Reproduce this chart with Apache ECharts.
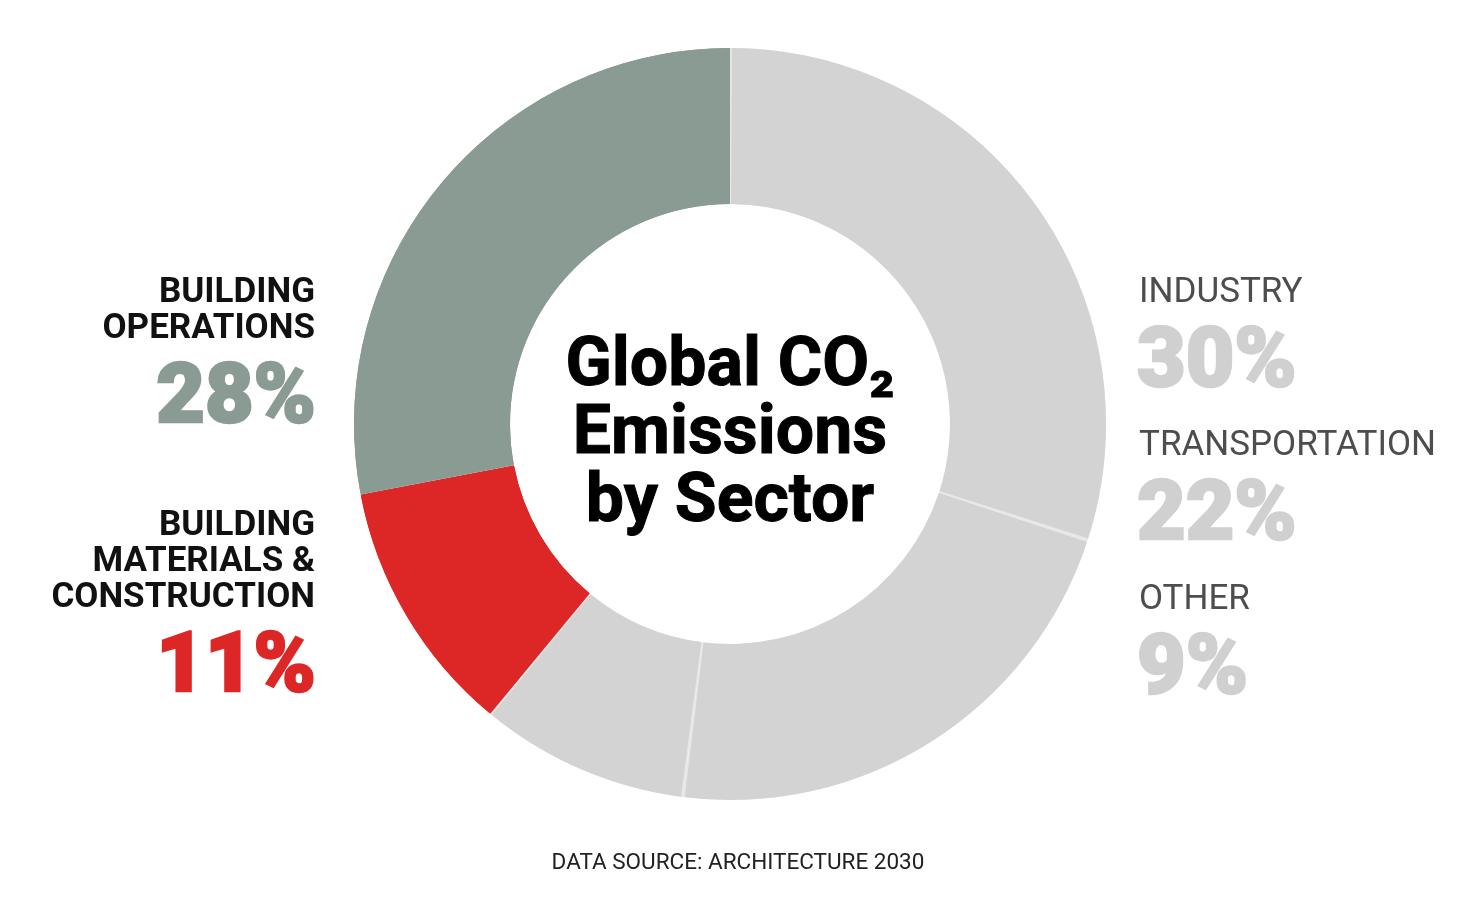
<!DOCTYPE html>
<html>
<head>
<meta charset="utf-8">
<title>Global CO2 Emissions by Sector</title>
<script src="https://cdn.jsdelivr.net/npm/echarts@6/dist/echarts.min.js"></script>
<style>
  html, body { margin: 0; padding: 0; background: #fff; }
  #chart { width: 1476px; height: 900px; }
</style>
</head>
<body>
<div id="chart"></div>
<script>
// data, clockwise from 12 o'clock
const sectors = ['Industry', 'Transportation', 'Other', 'Building Materials & Construction', 'Building Operations'];
const shares = [30, 22, 9, 11, 28];
const labelLines = [
  ['INDUSTRY'],
  ['TRANSPORTATION'],
  ['OTHER'],
  ['BUILDING', 'MATERIALS &', 'CONSTRUCTION'],
  ['BUILDING', 'OPERATIONS']
];
const titleLines = ['Global CO\u2082', 'Emissions', 'by Sector'];
const sourceText = 'DATA SOURCE: ARCHITECTURE 2030';

const sliceColors = ['#d3d3d3', '#d3d3d3', '#d3d3d3', '#dd2727', '#8a9b94'];
// colour seen through the thin gaps between slices
const gapColors = ['#e6e6e6', '#e6e6e6', '#e6e6e6', '#dd2727', '#8a9b94'];
const pctColors = ['#d0d0d0', '#d0d0d0', '#d0d0d0', '#dd2727', '#8a9b94'];
const nameColors = ['#4d4d4d', '#4d4d4d', '#4d4d4d', '#111', '#111'];
const nameWeight = ['normal', 'normal', 'normal', 'bold', 'bold'];
// block placement: side, centre of first line
const blocks = [
  { side: 'right', y: 293 },
  { side: 'right', y: 446 },
  { side: 'right', y: 600 },
  { side: 'left', y: 526 },
  { side: 'left', y: 293 }
];

const FONT = 'Roboto, "Liberation Sans", sans-serif';

const chart = echarts.init(document.getElementById('chart'), null, { renderer: 'canvas' });

let graphics = [];
blocks.forEach((b, i) => {
  const x = b.side === 'left' ? 315 : 1139;
  const align = b.side === 'left' ? 'right' : 'left';
  let y = b.y;
  labelLines[i].forEach((ln, k) => {
    graphics.push({
      type: 'text',
      style: {
        text: ln, x: x, y: y + k * 36,
        fill: nameColors[i],
        font: nameWeight[i] + ' 35px ' + FONT,
        textAlign: align, textVerticalAlign: 'middle'
      }
    });
  });
  y = y + (labelLines[i].length - 1) * 36 + 72;
  // percent figures are heavier than Roboto's bold, so add a stroke
  graphics.push({
    type: 'text',
    style: {
      text: shares[i] + '%', x: b.side === 'left' ? x + 1 : x - 2, y: y,
      fill: pctColors[i],
      stroke: pctColors[i], lineWidth: 2.5,
      font: '900 84px ' + FONT,
      textAlign: align, textVerticalAlign: 'middle'
    }
  });
});

titleLines.forEach((t, k) => {
  graphics.push({
    type: 'text',
    style: {
      text: t, x: 730, y: 368 + k * 68,
      fill: '#000',
      stroke: '#000', lineWidth: 1,
      font: 'bold 68px ' + FONT,
      textAlign: 'center', textVerticalAlign: 'middle'
    }
  });
});

graphics.push({
  type: 'text',
  style: {
    text: sourceText, x: 738, y: 863,
    fill: '#222',
    font: '22.5px ' + FONT,
    textAlign: 'center', textVerticalAlign: 'middle'
  }
});

const pieBase = {
  type: 'pie',
  center: [730, 424],
  radius: [220, 376],
  startAngle: 90,
  clockwise: true,
  silent: true,
  label: { show: false },
  labelLine: { show: false },
  emphasis: { disabled: true }
};

chart.setOption({
  backgroundColor: '#fff',
  animation: false,
  series: [
    Object.assign({}, pieBase, {
      z: 1,
      data: sectors.map((s, i) => ({ name: s, value: shares[i], itemStyle: { color: gapColors[i] } }))
    }),
    Object.assign({}, pieBase, {
      z: 2,
      padAngle: 0.6,
      data: sectors.map((s, i) => ({ name: s, value: shares[i], itemStyle: { color: sliceColors[i] } }))
    })
  ],
  graphic: graphics
});
</script>
</body>
</html>
